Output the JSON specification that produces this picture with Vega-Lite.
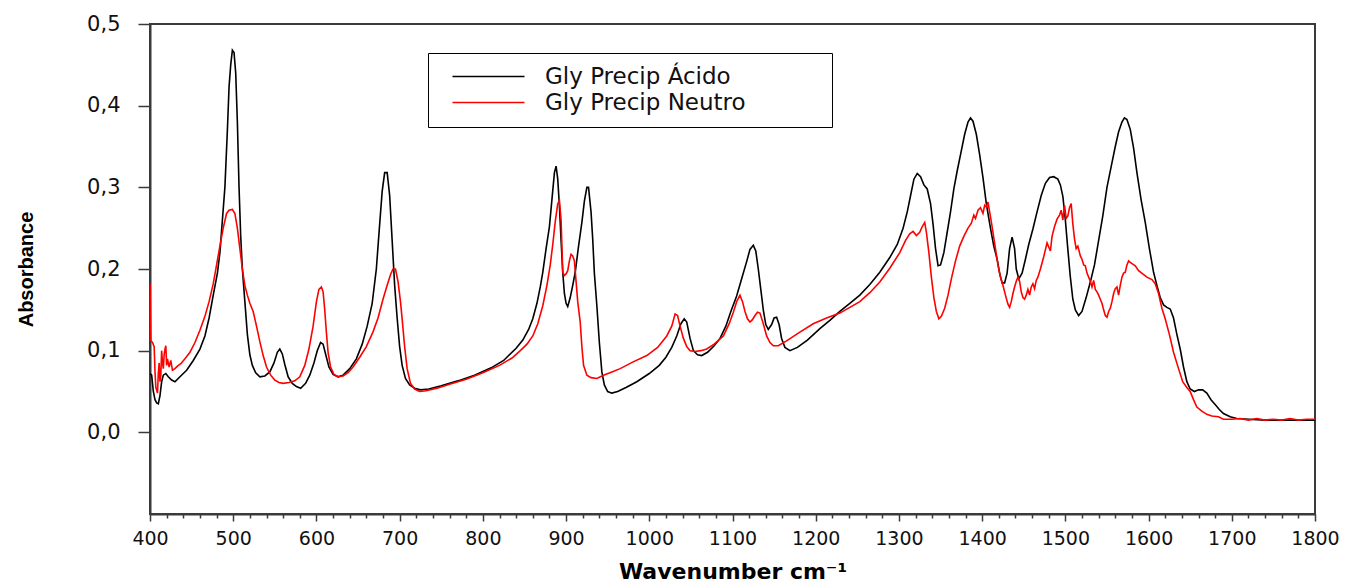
{
  "$schema": "https://vega.github.io/schema/vega-lite/v6.json",
  "width": 1165,
  "height": 490,
  "autosize": {"type": "none"},
  "padding": {"left": 150, "top": 24, "right": 38, "bottom": 71},
  "background": "white",
  "config": {
    "view": {"stroke": "#3a3a3a", "strokeWidth": 2},
    "axis": {"domainColor": "#3a3a3a", "domainWidth": 2, "tickColor": "#3a3a3a", "tickWidth": 1.5, "grid": false, "labelColor": "#111111", "titleColor": "#000000"}
  },
  "datasets": {
    "acido": [
      {"w":400,"a":0.072},{"w":402,"a":0.070},{"w":404,"a":0.05},{"w":406,"a":0.040},{"w":408,"a":0.036},{"w":410,"a":0.035},{"w":412,"a":0.045},{"w":414,"a":0.062},{"w":416,"a":0.070},{"w":419,"a":0.072},{"w":422,"a":0.068},{"w":426,"a":0.064},{"w":430,"a":0.062},{"w":436,"a":0.068},{"w":444,"a":0.076},{"w":452,"a":0.088},{"w":460,"a":0.102},{"w":466,"a":0.118},{"w":471,"a":0.140},{"w":476,"a":0.168},{"w":481,"a":0.195},{"w":484,"a":0.22},{"w":487,"a":0.26},{"w":490,"a":0.30},{"w":493,"a":0.37},{"w":495,"a":0.423},{"w":497,"a":0.45},{"w":499,"a":0.468},{"w":501,"a":0.465},{"w":503,"a":0.44},{"w":505,"a":0.38},{"w":507,"a":0.30},{"w":509,"a":0.24},{"w":511,"a":0.20},{"w":514,"a":0.16},{"w":517,"a":0.12},{"w":520,"a":0.095},{"w":523,"a":0.082},{"w":527,"a":0.073},{"w":532,"a":0.068},{"w":538,"a":0.069},{"w":544,"a":0.074},{"w":549,"a":0.085},{"w":553,"a":0.098},{"w":556,"a":0.102},{"w":559,"a":0.096},{"w":562,"a":0.083},{"w":566,"a":0.068},{"w":571,"a":0.060},{"w":576,"a":0.056},{"w":581,"a":0.054},{"w":587,"a":0.060},{"w":592,"a":0.070},{"w":597,"a":0.085},{"w":601,"a":0.100},{"w":605,"a":0.110},{"w":608,"a":0.108},{"w":611,"a":0.096},{"w":615,"a":0.080},{"w":620,"a":0.071},{"w":626,"a":0.068},{"w":632,"a":0.070},{"w":640,"a":0.078},{"w":648,"a":0.090},{"w":655,"a":0.108},{"w":661,"a":0.13},{"w":667,"a":0.158},{"w":672,"a":0.20},{"w":676,"a":0.255},{"w":679,"a":0.295},{"w":682,"a":0.318},{"w":685,"a":0.318},{"w":688,"a":0.29},{"w":691,"a":0.235},{"w":694,"a":0.18},{"w":697,"a":0.14},{"w":700,"a":0.105},{"w":703,"a":0.082},{"w":707,"a":0.066},{"w":712,"a":0.058},{"w":718,"a":0.054},{"w":725,"a":0.052},{"w":735,"a":0.053},{"w":750,"a":0.057},{"w":770,"a":0.063},{"w":790,"a":0.070},{"w":810,"a":0.079},{"w":825,"a":0.088},{"w":840,"a":0.103},{"w":848,"a":0.113},{"w":855,"a":0.126},{"w":860,"a":0.139},{"w":865,"a":0.158},{"w":869,"a":0.178},{"w":872,"a":0.196},{"w":876,"a":0.225},{"w":880,"a":0.252},{"w":883,"a":0.285},{"w":886,"a":0.318},{"w":888,"a":0.326},{"w":890,"a":0.31},{"w":892,"a":0.277},{"w":894,"a":0.235},{"w":896,"a":0.196},{"w":898,"a":0.170},{"w":900,"a":0.158},{"w":902,"a":0.154},{"w":905,"a":0.165},{"w":908,"a":0.180},{"w":911,"a":0.196},{"w":915,"a":0.228},{"w":919,"a":0.257},{"w":922,"a":0.283},{"w":925,"a":0.300},{"w":927,"a":0.300},{"w":930,"a":0.27},{"w":932,"a":0.237},{"w":934,"a":0.195},{"w":937,"a":0.155},{"w":940,"a":0.11},{"w":943,"a":0.074},{"w":946,"a":0.058},{"w":950,"a":0.050},{"w":955,"a":0.048},{"w":962,"a":0.050},{"w":972,"a":0.055},{"w":985,"a":0.062},{"w":1000,"a":0.072},{"w":1012,"a":0.082},{"w":1020,"a":0.092},{"w":1027,"a":0.104},{"w":1033,"a":0.118},{"w":1038,"a":0.133},{"w":1042,"a":0.139},{"w":1045,"a":0.135},{"w":1049,"a":0.115},{"w":1053,"a":0.100},{"w":1058,"a":0.095},{"w":1063,"a":0.094},{"w":1070,"a":0.098},{"w":1078,"a":0.106},{"w":1085,"a":0.115},{"w":1092,"a":0.130},{"w":1098,"a":0.148},{"w":1105,"a":0.167},{"w":1111,"a":0.188},{"w":1117,"a":0.209},{"w":1121,"a":0.224},{"w":1125,"a":0.229},{"w":1128,"a":0.222},{"w":1131,"a":0.200},{"w":1134,"a":0.175},{"w":1137,"a":0.150},{"w":1140,"a":0.132},{"w":1143,"a":0.126},{"w":1147,"a":0.132},{"w":1150,"a":0.140},{"w":1153,"a":0.141},{"w":1156,"a":0.132},{"w":1159,"a":0.115},{"w":1163,"a":0.104},{"w":1169,"a":0.100},{"w":1178,"a":0.104},{"w":1190,"a":0.113},{"w":1205,"a":0.127},{"w":1217,"a":0.137},{"w":1229,"a":0.148},{"w":1241,"a":0.158},{"w":1253,"a":0.168},{"w":1265,"a":0.181},{"w":1277,"a":0.196},{"w":1289,"a":0.214},{"w":1298,"a":0.230},{"w":1305,"a":0.250},{"w":1310,"a":0.270},{"w":1314,"a":0.290},{"w":1318,"a":0.310},{"w":1322,"a":0.317},{"w":1326,"a":0.313},{"w":1330,"a":0.303},{"w":1334,"a":0.298},{"w":1338,"a":0.280},{"w":1341,"a":0.255},{"w":1344,"a":0.225},{"w":1347,"a":0.204},{"w":1350,"a":0.205},{"w":1354,"a":0.22},{"w":1358,"a":0.245},{"w":1362,"a":0.27},{"w":1366,"a":0.298},{"w":1370,"a":0.32},{"w":1375,"a":0.345},{"w":1379,"a":0.365},{"w":1383,"a":0.380},{"w":1386,"a":0.385},{"w":1389,"a":0.381},{"w":1393,"a":0.365},{"w":1397,"a":0.34},{"w":1401,"a":0.312},{"w":1405,"a":0.28},{"w":1410,"a":0.25},{"w":1414,"a":0.228},{"w":1418,"a":0.212},{"w":1421,"a":0.195},{"w":1424,"a":0.183},{"w":1427,"a":0.183},{"w":1430,"a":0.195},{"w":1433,"a":0.225},{"w":1436,"a":0.239},{"w":1439,"a":0.225},{"w":1441,"a":0.200},{"w":1444,"a":0.188},{"w":1448,"a":0.195},{"w":1452,"a":0.212},{"w":1456,"a":0.230},{"w":1461,"a":0.249},{"w":1466,"a":0.270},{"w":1471,"a":0.290},{"w":1476,"a":0.305},{"w":1481,"a":0.312},{"w":1486,"a":0.313},{"w":1491,"a":0.310},{"w":1494,"a":0.303},{"w":1497,"a":0.289},{"w":1500,"a":0.26},{"w":1503,"a":0.224},{"w":1506,"a":0.19},{"w":1509,"a":0.163},{"w":1512,"a":0.150},{"w":1516,"a":0.143},{"w":1520,"a":0.148},{"w":1525,"a":0.165},{"w":1530,"a":0.184},{"w":1535,"a":0.205},{"w":1540,"a":0.235},{"w":1545,"a":0.265},{"w":1550,"a":0.30},{"w":1555,"a":0.325},{"w":1560,"a":0.350},{"w":1564,"a":0.368},{"w":1568,"a":0.380},{"w":1571,"a":0.385},{"w":1574,"a":0.383},{"w":1578,"a":0.371},{"w":1582,"a":0.348},{"w":1586,"a":0.318},{"w":1591,"a":0.285},{"w":1596,"a":0.257},{"w":1601,"a":0.225},{"w":1606,"a":0.196},{"w":1610,"a":0.180},{"w":1614,"a":0.165},{"w":1618,"a":0.156},{"w":1622,"a":0.153},{"w":1626,"a":0.151},{"w":1630,"a":0.140},{"w":1634,"a":0.120},{"w":1638,"a":0.102},{"w":1642,"a":0.080},{"w":1646,"a":0.062},{"w":1650,"a":0.053},{"w":1655,"a":0.050},{"w":1660,"a":0.052},{"w":1665,"a":0.052},{"w":1670,"a":0.048},{"w":1675,"a":0.040},{"w":1680,"a":0.034},{"w":1685,"a":0.028},{"w":1690,"a":0.023},{"w":1698,"a":0.019},{"w":1706,"a":0.017},{"w":1720,"a":0.016},{"w":1740,"a":0.015},{"w":1760,"a":0.015},{"w":1780,"a":0.015},{"w":1800,"a":0.015}
    ],
    "neutro": [
      {"w":400,"a":0.182},{"w":401,"a":0.112},{"w":403,"a":0.110},{"w":405,"a":0.105},{"w":406,"a":0.075},{"w":407,"a":0.055},{"w":409,"a":0.048},{"w":410,"a":0.072},{"w":411,"a":0.085},{"w":412,"a":0.062},{"w":413,"a":0.070},{"w":414,"a":0.100},{"w":415,"a":0.085},{"w":416,"a":0.078},{"w":417,"a":0.095},{"w":418,"a":0.102},{"w":419,"a":0.106},{"w":420,"a":0.082},{"w":421,"a":0.090},{"w":423,"a":0.080},{"w":425,"a":0.088},{"w":427,"a":0.076},{"w":430,"a":0.078},{"w":433,"a":0.081},{"w":437,"a":0.084},{"w":442,"a":0.090},{"w":448,"a":0.098},{"w":454,"a":0.110},{"w":460,"a":0.125},{"w":466,"a":0.142},{"w":471,"a":0.160},{"w":476,"a":0.182},{"w":480,"a":0.205},{"w":484,"a":0.228},{"w":488,"a":0.250},{"w":492,"a":0.268},{"w":495,"a":0.272},{"w":499,"a":0.273},{"w":502,"a":0.268},{"w":505,"a":0.250},{"w":508,"a":0.225},{"w":511,"a":0.200},{"w":514,"a":0.180},{"w":517,"a":0.168},{"w":520,"a":0.158},{"w":524,"a":0.148},{"w":528,"a":0.130},{"w":532,"a":0.111},{"w":536,"a":0.094},{"w":540,"a":0.080},{"w":545,"a":0.070},{"w":550,"a":0.064},{"w":555,"a":0.061},{"w":560,"a":0.060},{"w":567,"a":0.061},{"w":574,"a":0.063},{"w":580,"a":0.068},{"w":586,"a":0.082},{"w":591,"a":0.102},{"w":596,"a":0.130},{"w":600,"a":0.160},{"w":603,"a":0.175},{"w":606,"a":0.178},{"w":608,"a":0.172},{"w":610,"a":0.150},{"w":612,"a":0.122},{"w":614,"a":0.098},{"w":617,"a":0.080},{"w":621,"a":0.071},{"w":626,"a":0.068},{"w":632,"a":0.069},{"w":638,"a":0.073},{"w":644,"a":0.080},{"w":652,"a":0.092},{"w":660,"a":0.105},{"w":668,"a":0.123},{"w":674,"a":0.140},{"w":680,"a":0.163},{"w":685,"a":0.180},{"w":689,"a":0.193},{"w":692,"a":0.200},{"w":695,"a":0.200},{"w":698,"a":0.185},{"w":701,"a":0.160},{"w":703,"a":0.139},{"w":706,"a":0.105},{"w":709,"a":0.078},{"w":713,"a":0.060},{"w":718,"a":0.053},{"w":724,"a":0.050},{"w":732,"a":0.051},{"w":745,"a":0.054},{"w":760,"a":0.059},{"w":780,"a":0.065},{"w":800,"a":0.073},{"w":820,"a":0.082},{"w":835,"a":0.091},{"w":845,"a":0.100},{"w":853,"a":0.108},{"w":860,"a":0.118},{"w":866,"a":0.133},{"w":872,"a":0.155},{"w":877,"a":0.180},{"w":881,"a":0.205},{"w":884,"a":0.230},{"w":887,"a":0.258},{"w":890,"a":0.280},{"w":892,"a":0.284},{"w":894,"a":0.260},{"w":895,"a":0.228},{"w":896,"a":0.196},{"w":898,"a":0.192},{"w":900,"a":0.194},{"w":902,"a":0.198},{"w":904,"a":0.210},{"w":906,"a":0.218},{"w":908,"a":0.216},{"w":910,"a":0.210},{"w":912,"a":0.185},{"w":914,"a":0.160},{"w":917,"a":0.135},{"w":919,"a":0.105},{"w":921,"a":0.082},{"w":925,"a":0.070},{"w":930,"a":0.067},{"w":937,"a":0.066},{"w":945,"a":0.070},{"w":955,"a":0.074},{"w":965,"a":0.078},{"w":980,"a":0.086},{"w":997,"a":0.094},{"w":1010,"a":0.104},{"w":1021,"a":0.118},{"w":1027,"a":0.130},{"w":1031,"a":0.145},{"w":1034,"a":0.143},{"w":1037,"a":0.130},{"w":1041,"a":0.115},{"w":1045,"a":0.105},{"w":1049,"a":0.100},{"w":1055,"a":0.099},{"w":1062,"a":0.100},{"w":1069,"a":0.102},{"w":1078,"a":0.108},{"w":1089,"a":0.118},{"w":1096,"a":0.133},{"w":1101,"a":0.147},{"w":1105,"a":0.160},{"w":1109,"a":0.168},{"w":1112,"a":0.160},{"w":1115,"a":0.148},{"w":1118,"a":0.139},{"w":1121,"a":0.135},{"w":1124,"a":0.138},{"w":1127,"a":0.143},{"w":1130,"a":0.147},{"w":1133,"a":0.146},{"w":1137,"a":0.133},{"w":1141,"a":0.118},{"w":1145,"a":0.110},{"w":1149,"a":0.106},{"w":1155,"a":0.106},{"w":1165,"a":0.112},{"w":1180,"a":0.122},{"w":1197,"a":0.133},{"w":1213,"a":0.140},{"w":1229,"a":0.146},{"w":1241,"a":0.153},{"w":1253,"a":0.160},{"w":1265,"a":0.171},{"w":1277,"a":0.184},{"w":1289,"a":0.201},{"w":1301,"a":0.220},{"w":1308,"a":0.235},{"w":1313,"a":0.243},{"w":1317,"a":0.246},{"w":1321,"a":0.241},{"w":1325,"a":0.245},{"w":1328,"a":0.252},{"w":1331,"a":0.257},{"w":1333,"a":0.245},{"w":1336,"a":0.220},{"w":1339,"a":0.190},{"w":1342,"a":0.165},{"w":1345,"a":0.148},{"w":1348,"a":0.139},{"w":1351,"a":0.142},{"w":1355,"a":0.152},{"w":1359,"a":0.168},{"w":1363,"a":0.188},{"w":1368,"a":0.210},{"w":1373,"a":0.228},{"w":1378,"a":0.240},{"w":1383,"a":0.250},{"w":1387,"a":0.256},{"w":1390,"a":0.266},{"w":1392,"a":0.262},{"w":1395,"a":0.272},{"w":1398,"a":0.275},{"w":1401,"a":0.268},{"w":1403,"a":0.278},{"w":1405,"a":0.276},{"w":1407,"a":0.282},{"w":1409,"a":0.270},{"w":1411,"a":0.258},{"w":1413,"a":0.245},{"w":1416,"a":0.225},{"w":1419,"a":0.205},{"w":1422,"a":0.190},{"w":1425,"a":0.180},{"w":1428,"a":0.168},{"w":1431,"a":0.157},{"w":1433,"a":0.153},{"w":1435,"a":0.160},{"w":1437,"a":0.170},{"w":1439,"a":0.178},{"w":1441,"a":0.185},{"w":1443,"a":0.190},{"w":1445,"a":0.185},{"w":1447,"a":0.172},{"w":1449,"a":0.165},{"w":1451,"a":0.163},{"w":1453,"a":0.168},{"w":1455,"a":0.175},{"w":1457,"a":0.168},{"w":1459,"a":0.178},{"w":1461,"a":0.182},{"w":1463,"a":0.176},{"w":1465,"a":0.186},{"w":1467,"a":0.190},{"w":1470,"a":0.200},{"w":1474,"a":0.215},{"w":1478,"a":0.232},{"w":1482,"a":0.222},{"w":1484,"a":0.240},{"w":1487,"a":0.252},{"w":1490,"a":0.261},{"w":1493,"a":0.266},{"w":1495,"a":0.272},{"w":1497,"a":0.260},{"w":1499,"a":0.278},{"w":1501,"a":0.262},{"w":1503,"a":0.265},{"w":1505,"a":0.275},{"w":1507,"a":0.280},{"w":1509,"a":0.255},{"w":1511,"a":0.237},{"w":1513,"a":0.225},{"w":1515,"a":0.228},{"w":1518,"a":0.216},{"w":1520,"a":0.212},{"w":1522,"a":0.205},{"w":1524,"a":0.204},{"w":1526,"a":0.195},{"w":1528,"a":0.190},{"w":1530,"a":0.185},{"w":1532,"a":0.178},{"w":1534,"a":0.186},{"w":1536,"a":0.175},{"w":1538,"a":0.172},{"w":1540,"a":0.168},{"w":1542,"a":0.163},{"w":1544,"a":0.158},{"w":1546,"a":0.150},{"w":1548,"a":0.143},{"w":1550,"a":0.141},{"w":1552,"a":0.148},{"w":1554,"a":0.152},{"w":1556,"a":0.160},{"w":1558,"a":0.170},{"w":1560,"a":0.176},{"w":1562,"a":0.178},{"w":1564,"a":0.168},{"w":1566,"a":0.180},{"w":1568,"a":0.190},{"w":1570,"a":0.195},{"w":1572,"a":0.196},{"w":1574,"a":0.205},{"w":1576,"a":0.210},{"w":1578,"a":0.208},{"w":1581,"a":0.206},{"w":1584,"a":0.204},{"w":1588,"a":0.198},{"w":1593,"a":0.194},{"w":1598,"a":0.190},{"w":1604,"a":0.187},{"w":1608,"a":0.182},{"w":1612,"a":0.170},{"w":1616,"a":0.152},{"w":1620,"a":0.139},{"w":1625,"a":0.120},{"w":1630,"a":0.098},{"w":1636,"a":0.078},{"w":1641,"a":0.062},{"w":1646,"a":0.055},{"w":1650,"a":0.050},{"w":1654,"a":0.040},{"w":1658,"a":0.031},{"w":1664,"a":0.026},{"w":1670,"a":0.022},{"w":1676,"a":0.020},{"w":1684,"a":0.019},{"w":1690,"a":0.016},{"w":1700,"a":0.016},{"w":1710,"a":0.017},{"w":1720,"a":0.015},{"w":1730,"a":0.017},{"w":1740,"a":0.015},{"w":1750,"a":0.016},{"w":1760,"a":0.015},{"w":1770,"a":0.017},{"w":1780,"a":0.015},{"w":1790,"a":0.016},{"w":1800,"a":0.016}
    ]
  },
  "encoding": {
    "x": {
      "field": "w", "type": "quantitative",
      "scale": {"domain": [400, 1800], "nice": false, "zero": false},
      "axis": {
        "values": [400,420,440,460,480,500,520,540,560,580,600,620,640,660,680,700,720,740,760,780,800,820,840,860,880,900,920,940,960,980,1000,1020,1040,1060,1080,1100,1120,1140,1160,1180,1200,1220,1240,1260,1280,1300,1320,1340,1360,1380,1400,1420,1440,1460,1480,1500,1520,1540,1560,1580,1600,1620,1640,1660,1680,1700,1720,1740,1760,1780,1800],
        "format": "d",
        "labelExpr": "datum.value % 100 === 0 ? datum.label : ''",
        "labelOverlap": false,
        "labelFlush": false,
        "tickSize": {"condition": {"test": "datum.value % 100 === 0", "value": 7}, "value": 4},
        "labelFont": "DejaVu Sans", "labelFontSize": 19, "labelPadding": 8,
        "title": "Wavenumber cm⁻¹",
        "titleFont": "DejaVu Sans", "titleFontSize": 22, "titleFontWeight": "bold", "titlePadding": 13
      }
    },
    "y": {
      "field": "a", "type": "quantitative",
      "scale": {"domain": [-0.1, 0.5], "nice": false, "zero": false},
      "axis": {
        "values": [0, 0.1, 0.2, 0.3, 0.4, 0.5],
        "labelExpr": "replace(format(datum.value, '.1f'), '.', ',')",
        "tickSize": 12,
        "labelFont": "DejaVu Sans", "labelFontSize": 21, "labelPadding": 18,
        "title": "Absorbance",
        "titleFont": "Liberation Sans", "titleFontSize": 20, "titleFontWeight": "bold", "titlePadding": 50
      }
    }
  },
  "layer": [
    {
      "data": {"name": "acido"},
      "mark": {"type": "line", "strokeWidth": 1.6, "clip": true},
      "encoding": {
        "color": {
          "datum": "Gly Precip Ácido",
          "type": "nominal",
          "scale": {"domain": ["Gly Precip Ácido", "Gly Precip Neutro"], "range": ["#000000", "#ff0000"]},
          "legend": {
            "orient": "none", "legendX": 278, "legendY": 29,
            "title": null, "strokeColor": "#000000", "fillColor": "#ffffff", "padding": 12,
            "symbolType": "M-4,0H4M36.5,0", "symbolSize": 324, "symbolStrokeWidth": 1.5, "symbolOffset": 37,
            "labelFont": "DejaVu Sans", "labelFontSize": 23, "labelColor": "#111111", "labelOffset": 45, "rowPadding": 2, "labelLimit": 500
          }
        }
      }
    },
    {
      "data": {"name": "neutro"},
      "mark": {"type": "line", "strokeWidth": 1.6, "clip": true},
      "encoding": {"color": {"datum": "Gly Precip Neutro", "type": "nominal"}}
    }
  ]
}
